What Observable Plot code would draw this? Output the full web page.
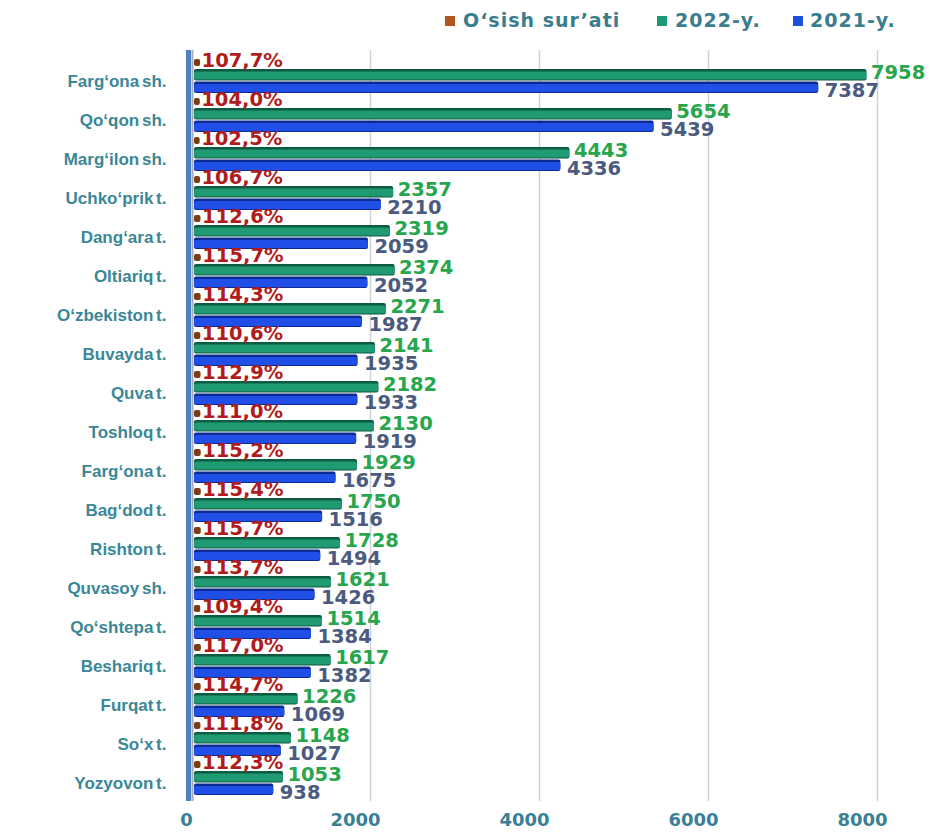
<!DOCTYPE html>
<html>
<head>
<meta charset="utf-8">
<script src="https://cdn.jsdelivr.net/npm/d3@7"></script>
<script src="https://cdn.jsdelivr.net/npm/@observablehq/plot@0.6"></script>
<style>
  html, body { margin: 0; padding: 0; background: #fff; }
  #wrap { position: relative; width: 935px; height: 836px; overflow: hidden; }
  #legend { position: relative; height: 40px; width: 935px; font-family: "DejaVu Sans", sans-serif; font-weight: bold; font-size: 19px; color: #3a7d8f; letter-spacing: 1px; }
  .sw { position: absolute; top: 16px; width: 10px; height: 10px; }
  .lt { position: absolute; top: 8px; line-height: 24px; white-space: nowrap; }
  g[aria-label="y-axis tick label"] { font-family: "Liberation Sans", Arial, sans-serif; font-size: 17px; font-weight: bold; fill: #3a8797; word-spacing: -2px; }
  g[aria-label="x-axis tick label"] { font-family: "DejaVu Sans", sans-serif; font-size: 18px; font-weight: bold; fill: #3a7f95; }
</style>
</head>
<body>
<div id="wrap">
  <div id="legend"></div>
  <div id="chart"></div>
</div>
<script>
const cats = ["Farg‘ona sh.","Qo‘qon sh.","Marg‘ilon sh.","Uchko‘prik t.","Dang‘ara t.","Oltiariq t.","O‘zbekiston t.","Buvayda t.","Quva t.","Toshloq t.","Farg‘ona t.","Bag‘dod t.","Rishton t.","Quvasoy sh.","Qo‘shtepa t.","Beshariq t.","Furqat t.","So‘x t.","Yozyovon t."];
const v2022 = [7958,5654,4443,2357,2319,2374,2271,2141,2182,2130,1929,1750,1728,1621,1514,1617,1226,1148,1053];
const v2021 = [7387,5439,4336,2210,2059,2052,1987,1935,1933,1919,1675,1516,1494,1426,1384,1382,1069,1027,938];
const pct = [107.7,104.0,102.5,106.7,112.6,115.7,114.3,110.6,112.9,111.0,115.2,115.4,115.7,113.7,109.4,117.0,114.7,111.8,112.3];
const xTicks = [0,2000,4000,6000,8000];
const legendItems = [
  {label: "O‘sish sur’ati", color: "#b0561e", sx: 445, tx: 463},
  {label: "2022-y.", color: "#1a9a78", sx: 657, tx: 675},
  {label: "2021-y.", color: "#1f4fe0", sx: 793, tx: 810}
];

const legend = document.getElementById("legend");
for (const it of legendItems) {
  const s = document.createElement("div");
  s.className = "sw"; s.style.left = it.sx + "px"; s.style.background = it.color;
  const t = document.createElement("div");
  t.className = "lt"; t.style.left = it.tx + "px"; t.textContent = it.label;
  legend.appendChild(s); legend.appendChild(t);
}

const keyOf = (c, s) => c + "|" + s;
const yDomain = cats.flatMap(c => [keyOf(c, "p"), keyOf(c, "g"), keyOf(c, "b")]);
const rows = cats.map((c, i) => ({cat: c, v2022: v2022[i], v2021: v2021[i], pct: pct[i]}));
const yP = d => keyOf(d.cat, "p");
const yG = d => keyOf(d.cat, "g");
const yB = d => keyOf(d.cat, "b");
const num = {fontFamily: "DejaVu Sans", fontWeight: "bold", fontSize: 19.5, textAnchor: "start"};

const chart = Plot.plot({
  width: 935,
  height: 796,
  marginLeft: 194,
  marginRight: 65,
  marginTop: 10,
  marginBottom: 35,
  style: {fontFamily: "Liberation Sans, Arial, sans-serif", background: "#fff", overflow: "visible"},
  x: {domain: [0, 8000]},
  y: {domain: yDomain, padding: 0},
  marks: [
    Plot.ruleX(xTicks.slice(1), {stroke: "#cdd3dd", strokeWidth: 1.5, dx: 7}),
    Plot.ruleX([0], {stroke: "#4f7fc6", strokeWidth: 5, dx: -6}),
    Plot.ruleX([0], {stroke: "#a6adb6", strokeWidth: 2, dx: -2}),
    Plot.barX(rows, {x: "pct", y: yP, fill: "#7a3c12", insetTop: 4, insetBottom: 2, insetRight: 3, rx: 2}),
    Plot.barX(rows, {x: "v2022", y: yG, fill: "#0d5b40", insetTop: 1, insetBottom: 0.5, rx: 2}),
    Plot.barX(rows, {x: "v2022", y: yG, fill: "#1f9a72", insetTop: 3.5, insetBottom: 1.5, rx: 2}),
    Plot.barX(rows, {x: "v2021", y: yB, fill: "#0c2a93", insetTop: 0.5, insetBottom: 1, rx: 2}),
    Plot.barX(rows, {x: "v2021", y: yB, fill: "#1f4fe6", insetTop: 3, insetBottom: 2, rx: 2}),
    Plot.text(rows, {x: "pct", y: yP, text: d => d.pct.toFixed(1).replace(".", ",") + "%", dx: -2, dy: -1, fill: "#b01c1c", ...num}),
    Plot.text(rows, {x: "v2022", y: yG, text: d => String(d.v2022), dx: 4, dy: -2, fill: "#27a64d", ...num}),
    Plot.text(rows, {x: "v2021", y: yB, text: d => String(d.v2021), dx: 6, dy: 3, fill: "#4b5b80", ...num}),
    Plot.axisY({ticks: cats.map(c => keyOf(c, "g")), tickFormat: d => d.split("|")[0], tickSize: 0, tickPadding: 28, dy: 7, label: null}),
    Plot.axisX({ticks: xTicks, tickFormat: d => String(d), tickSize: 0, tickPadding: 12, dx: -8, label: null})
  ]
});
document.getElementById("chart").appendChild(chart);
</script>
</body>
</html>
